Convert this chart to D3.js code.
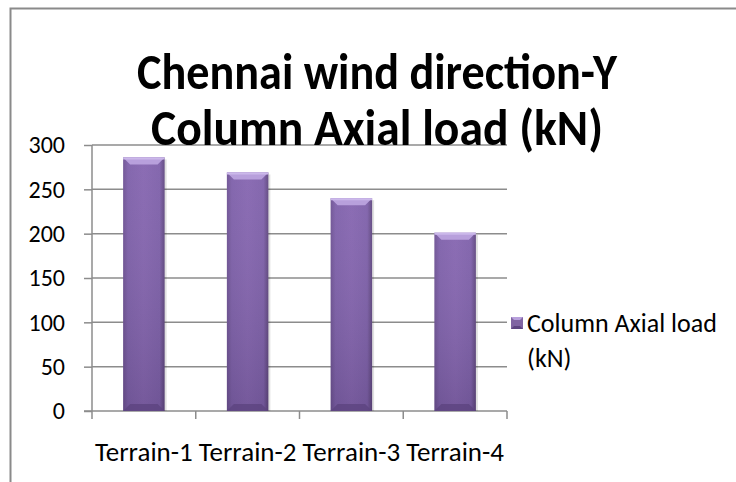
<!DOCTYPE html>
<html lang="en">
    <head>
        <meta charset="utf-8">
        <title>chennai_axial_load</title>
        <script type="text/javascript" src="https://cdn.jsdelivr.net/npm/d3@7"></script>
        <style>
            body { margin: 0; background: #fff; }
            text { font-family: Carlito, Lato, "Noto Sans", sans-serif; fill: #000; }
        </style>
    </head>

    <body>
        <script type="text/javascript">
        var w = 736;
        var h = 482;

        // values
        var categories = ["Terrain-1", "Terrain-2", "Terrain-3", "Terrain-4"];
        var axialLoad = [286, 269, 240, 201];
        var yTicks = [0, 50, 100, 150, 200, 250, 300];
        var titleLines = ["Chennai wind direction-Y", "Column Axial load (kN)"];
        var legendLines = ["Column Axial load", "(kN)"];

        // plot area (don't call it "top", that's window.top)
        var pLeft = 92, pRight = 507, pTop = 145, pBottom = 411;

        var xScale = d3.scaleBand()
                    .domain(categories)
                    .range([pLeft, pRight])
                    .paddingInner(0.6)
                    .paddingOuter(0.3);

        var yScale = d3.scaleLinear()
                    .domain([0, 300])
                    .range([pBottom, pTop]);

        var svg = d3.select("body")
                    .append("svg")
                    .attr("width", w)
                    .attr("height", h);

        // gradients for the bevelled bars
        var defs = svg.append("defs");
        var g1 = defs.append("linearGradient").attr("id", "barFill")
                    .attr("x1", 0).attr("x2", 1).attr("y1", 0).attr("y2", 0);
        g1.append("stop").attr("offset", "0%").attr("stop-color", "#6d5193");
        g1.append("stop").attr("offset", "12%").attr("stop-color", "#7e60aa");
        g1.append("stop").attr("offset", "50%").attr("stop-color", "#8565b0");
        g1.append("stop").attr("offset", "88%").attr("stop-color", "#7e60aa");
        g1.append("stop").attr("offset", "100%").attr("stop-color", "#5f467f");

        var g2 = defs.append("linearGradient").attr("id", "barShade")
                    .attr("x1", 0).attr("x2", 0).attr("y1", 0).attr("y2", 1);
        g2.append("stop").attr("offset", "0%").attr("stop-color", "#fff").attr("stop-opacity", 0.05);
        g2.append("stop").attr("offset", "100%").attr("stop-color", "#000").attr("stop-opacity", 0.12);

        // chart frame
        svg.append("path")
            .attr("d", "M10.5," + h + "V8.5H" + w)
            .attr("fill", "none")
            .attr("stroke", "#8a8a8a")
            .attr("stroke-width", 2);

        // gridlines
        svg.append("g")
            .selectAll("line")
            .data(yTicks.filter(function(d){ return d > 0; }))
            .enter()
            .append("line")
            .attr("x1", pLeft)
            .attr("x2", pRight)
            .attr("y1", function(d){ return yScale(d); })
            .attr("y2", function(d){ return yScale(d); })
            .attr("stroke", "#8c8c8c")
            .attr("stroke-width", 1.5);

        // y axis
        var yAxis = d3.axisLeft(yScale).tickValues(yTicks).tickSize(8).tickPadding(19);
        var yg = svg.append("g")
            .attr("transform", "translate(" + pLeft + ",0)")
            .call(yAxis);
        yg.select(".domain").attr("stroke", "#8c8c8c").attr("stroke-width", 1.5)
            .attr("d", "M0," + pTop + "V" + pBottom);
        yg.selectAll(".tick line").attr("stroke", "#8c8c8c").attr("stroke-width", 1.5);
        yg.selectAll(".tick text").style("font-size", "24px");

        // x axis: ticks at category boundaries
        var step = xScale.step();
        var xg = svg.append("g")
            .attr("transform", "translate(0," + pBottom + ")");
        xg.append("line")
            .attr("x1", pLeft - 8).attr("x2", pRight)
            .attr("stroke", "#8c8c8c").attr("stroke-width", 1.5);
        xg.selectAll(".xtick")
            .data(d3.range(categories.length + 1))
            .enter()
            .append("line")
            .attr("class", "xtick")
            .attr("x1", function(i){ return pLeft + i * step; })
            .attr("x2", function(i){ return pLeft + i * step; })
            .attr("y1", 0).attr("y2", 8)
            .attr("stroke", "#8c8c8c").attr("stroke-width", 1.5);
        xg.selectAll(".xlabel")
            .data(categories)
            .enter()
            .append("text")
            .attr("class", "xlabel")
            .attr("x", function(d){ return xScale(d) + xScale.bandwidth() / 2; })
            .attr("y", 50)
            .attr("text-anchor", "middle")
            .style("font-size", "27px")
            .text(function(d){ return d; });

        // bars with a bevel look
        var bev = 7;
        var bars = svg.append("g").selectAll("g")
            .data(axialLoad)
            .enter()
            .append("g");

        bars.append("rect")
            .attr("x", function(d, i){ return xScale(categories[i]) + 2; })
            .attr("y", function(d){ return yScale(d) + 2; })
            .attr("width", xScale.bandwidth())
            .attr("height", function(d){ return pBottom - yScale(d) - 2; })
            .attr("fill", "#000").attr("opacity", 0.12);

        bars.append("rect")
            .attr("x", function(d, i){ return xScale(categories[i]); })
            .attr("y", function(d){ return yScale(d); })
            .attr("width", xScale.bandwidth())
            .attr("height", function(d){ return pBottom - yScale(d); })
            .attr("fill", "url(#barFill)");

        bars.append("rect")
            .attr("x", function(d, i){ return xScale(categories[i]); })
            .attr("y", function(d){ return yScale(d); })
            .attr("width", xScale.bandwidth())
            .attr("height", function(d){ return pBottom - yScale(d); })
            .attr("fill", "url(#barShade)");

        // top bevel
        bars.append("path")
            .attr("d", function(d, i){
                var x0 = xScale(categories[i]), x1 = x0 + xScale.bandwidth(), y0 = yScale(d);
                return "M" + x0 + "," + y0 + "H" + x1 + "L" + (x1 - bev) + "," + (y0 + bev) +
                       "H" + (x0 + bev) + "Z";
            })
            .attr("fill", "#b8a0dc");
        bars.append("path")
            .attr("d", function(d, i){
                var x0 = xScale(categories[i]), x1 = x0 + xScale.bandwidth(), y0 = yScale(d);
                return "M" + x0 + "," + y0 + "H" + x1 + "V" + (y0 + 2) + "H" + x0 + "Z";
            })
            .attr("fill", "#cbb8ea");

        // bottom bevel
        bars.append("path")
            .attr("d", function(d, i){
                var x0 = xScale(categories[i]), x1 = x0 + xScale.bandwidth();
                return "M" + x0 + "," + pBottom + "H" + x1 + "L" + (x1 - bev) + "," + (pBottom - bev) +
                       "H" + (x0 + bev) + "Z";
            })
            .attr("fill", "#5d4480").attr("opacity", 0.8);

        // title, squeezed a bit to look like the narrower original face
        var titleWidths = [480, 452];
        svg.append("g")
            .selectAll("text")
            .data(titleLines)
            .enter()
            .append("text")
            .attr("x", 377)
            .attr("y", function(d, i){ return 89 + i * 56; })
            .attr("text-anchor", "middle")
            .attr("textLength", function(d, i){ return titleWidths[i]; })
            .attr("lengthAdjust", "spacingAndGlyphs")
            .style("font-size", "50px")
            .style("font-weight", "bold")
            .text(function(d){ return d; });

        // legend
        var lg = svg.append("g").attr("transform", "translate(511,317)");
        lg.append("rect").attr("width", 12).attr("height", 12).attr("fill", "#8064a2");
        lg.append("path").attr("d", "M0,0H12L9,3H3Z").attr("fill", "#b8a0dc");
        lg.append("path").attr("d", "M0,12H12L9,9H3Z").attr("fill", "#5d4480");
        lg.append("text")
            .style("font-size", "26px")
            .selectAll("tspan")
            .data(legendLines)
            .enter()
            .append("tspan")
            .attr("x", 16)
            .attr("y", function(d, i){ return 15 + i * 35; })
            .text(function(d){ return d; });
        </script>
    </body>
</html>
